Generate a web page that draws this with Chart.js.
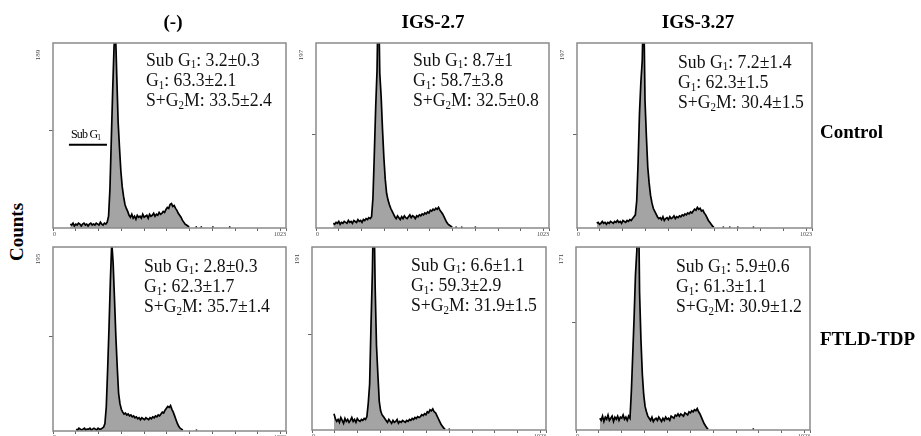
<!DOCTYPE html>
<html>
<head>
<meta charset="utf-8">
<script src="https://cdn.jsdelivr.net/npm/chart.js@4/dist/chart.umd.min.js"></script>
<style>
  html,body{margin:0;padding:0;background:#fff;}
  #fig{position:relative;width:921px;height:436px;overflow:hidden;font-family:'Liberation Serif','Times New Roman',serif;color:#000;}
  #fig canvas{position:absolute;}
  .title{position:absolute;font-weight:bold;font-size:19px;line-height:20px;white-space:nowrap;transform:translateX(-50%);}
  .row{position:absolute;font-weight:bold;font-size:19px;line-height:20px;white-space:nowrap;}
  .ann{position:absolute;font-size:17.7px;line-height:18px;white-space:nowrap;transform:scaleY(1.12);transform-origin:0 0;color:#111;}
  .ann sub,.gate sub{font-size:0.62em;vertical-align:-0.22em;line-height:0;}
  .gate{position:absolute;font-size:12px;letter-spacing:-0.8px;line-height:12px;white-space:nowrap;}
  #counts{position:absolute;font-weight:bold;font-size:19px;line-height:20px;transform:translate(-50%,-50%) rotate(-90deg);left:17px;top:232px;}
</style>
</head>
<body>
<div id="fig">
  <div id="counts">Counts</div>
</div>
<script>
// ---------- Data
const columnTitles = ['(-)', 'IGS-2.7', 'IGS-3.27'];
const rowTitles = ['Control', 'FTLD-TDP'];
const yMaxLabels = [189, 197, 197, 195, 191, 171];
const xTickValues = [0, 100, 200, 300, 400, 500, 600, 700, 800, 900, 1000, 1023];
const yTickValues = [100];
const binWidth = 6;

const subG1 = [3.2, 8.7, 7.2, 2.8, 6.6, 5.9];
const subG1Err = [0.3, 1, 1.4, 0.3, 1.1, 0.6];
const g1 = [63.3, 58.7, 62.3, 62.3, 59.3, 61.3];
const g1Err = [2.1, 3.8, 1.5, 1.7, 2.9, 1.1];
const sg2m = [33.5, 32.5, 30.4, 35.7, 31.9, 30.9];
const sg2mErr = [2.4, 0.8, 1.5, 1.4, 1.5, 1.2];

// first channel of each histogram
const startChannels = [76, 76, 86, 102, 96, 104];

// counts per 6-channel bin
const countsCtrlNeg = [4,3,5,2,4,3,5,4,2,4,5,3,4,2,4,5,3,4,3,5,4,3,6,4,3,5,4,6,
  12,40,90,140,185,205,155,108,82,58,42,32,24,20,17,
  13,11,14,10,12,9,13,11,12,10,14,11,12,13,10,14,12,13,15,12,14,13,16,14,
  15,17,16,19,21,20,24,25,22,23,20,18,15,13,11,8,6,4,3,2,1];
const countsCtrl27 = [5,4,6,5,7,4,6,5,7,6,5,8,6,7,5,8,7,6,9,7,8,6,9,8,10,9,11,10,
  12,32,78,128,168,260,165,140,105,75,52,37,30,25,21,18,15,
  12,10,13,11,9,12,10,13,11,10,12,14,11,13,12,10,13,12,14,13,15,
  14,16,15,17,16,19,18,20,19,21,20,22,19,17,15,12,9,6,4,3,2,1];
const countsCtrl327 = [5,6,4,5,7,5,6,4,6,5,7,6,5,7,6,8,6,7,5,8,7,6,8,7,9,8,10,12,
  14,29,70,122,155,178,250,136,98,65,48,35,27,21,18,15,
  12,10,11,9,12,8,10,11,9,12,10,11,13,10,12,11,13,12,14,13,15,
  14,16,15,17,16,18,20,19,22,20,21,18,19,16,14,11,8,6,4,2,1];
const countsFtldNeg = [2,1,3,2,1,2,3,1,2,2,3,1,2,3,2,1,3,2,2,3,4,
  8,26,66,110,160,200,178,140,100,68,40,29,23,20,18,
  19,17,18,16,17,15,16,14,15,13,14,12,14,13,12,14,13,12,14,13,15,14,16,
  15,17,16,18,20,19,22,24,26,25,27,23,20,16,12,8,5,3,2,1];
const countsFtld27 = [17,12,9,11,8,13,10,7,12,9,11,8,10,13,9,11,8,12,10,9,11,10,12,11,
  14,28,48,110,165,250,150,88,58,30,20,16,14,
  12,10,8,11,9,7,10,8,9,11,7,9,8,10,9,8,10,9,11,10,12,11,13,12,14,13,
  14,16,15,17,16,19,18,21,20,22,19,18,15,12,9,6,4,2,1];
const countsFtld327 = [11,9,13,8,12,10,14,9,11,13,8,12,10,13,9,12,11,14,10,12,9,13,11,
  36,70,105,145,168,240,128,84,52,33,22,17,13,
  11,9,12,8,10,11,9,12,10,8,11,9,12,10,11,9,13,12,11,14,13,15,
  13,15,14,13,16,15,14,17,16,18,17,19,18,20,17,15,12,9,6,4,2,1];

// stray single events past G2/M [channel, count]
const sparseCtrlNeg = [[629,1],[651,1],[702,1],[776,1]];
const sparseCtrl27 = [[615,1],[640,1],[700,1]];
const sparseCtrl327 = [[637,1],[665,1],[700,1],[768,1]];
const sparseFtldNeg = [[630,1]];
const sparseFtld27 = [[600,1]];
const sparseFtld327 = [[775,1]];

// Sub G1 gate on the first panel [fromChannel, toChannel, level]
const gateSubG1 = [70, 237, 85];

const allCounts = [countsCtrlNeg, countsCtrl27, countsCtrl327, countsFtldNeg, countsFtld27, countsFtld327];
const allSparse = [sparseCtrlNeg, sparseCtrl27, sparseCtrl327, sparseFtldNeg, sparseFtld27, sparseFtld327];

// ---------- Layout
const frames = [
  {l:53, t:43, w:233, h:185}, {l:316, t:43, w:233, h:185}, {l:577, t:43, w:235, h:185},
  {l:53, t:247, w:233, h:184}, {l:312, t:247, w:234, h:183}, {l:576, t:247, w:234, h:183}
];
const annPos = [[146,49],[413,49],[678,51],[144,255],[411,254],[676,255]];
const titlePos = [[173,12],[433,12],[698,12]];
const rowPos = [[820,122],[820,329]];
const padL = 20, padR = 14, padT = 4, padB = 10;

const fig = document.getElementById('fig');

const framePlugin = {
  id: 'frame',
  afterDraw(chart){
    const a = chart.chartArea, ctx = chart.ctx, ys = chart.scales.y;
    ctx.save();
    ctx.strokeStyle = '#8a8a8a'; ctx.lineWidth = 1.5;
    ctx.strokeRect(a.left, a.top, a.right - a.left, a.bottom - a.top);
    ctx.fillStyle = '#444'; ctx.font = '7px "Liberation Serif"';
    ctx.textAlign = 'center'; ctx.textBaseline = 'middle';
    ctx.translate(a.left - 15, ys.getPixelForValue(ys.max) + 12);
    ctx.rotate(-Math.PI/2);
    ctx.fillText(String(ys.max), 0, 0);
    ctx.restore();
  }
};

function histPoints(start, counts){ return counts.map((c,i)=>({x:start + i*binWidth, y:c})); }

function makePanel(idx){
  const f = frames[idx];
  const cv = document.createElement('canvas');
  cv.width = f.w + padL + padR; cv.height = f.h + padT + padB;
  cv.style.width = cv.width + 'px'; cv.style.height = cv.height + 'px';
  fig.appendChild(cv);
  const datasets = [
    {data:histPoints(startChannels[idx], allCounts[idx]), borderColor:'#000', borderWidth:1.7,
     backgroundColor:'#a4a4a4', fill:'origin', pointRadius:0, tension:0},
    {type:'scatter', data:allSparse[idx].map(p=>({x:p[0], y:p[1]})), pointRadius:0.9,
     backgroundColor:'#222', borderWidth:0}
  ];
  if(idx===0){
    datasets.push({data:[{x:gateSubG1[0], y:gateSubG1[2]}, {x:gateSubG1[1], y:gateSubG1[2]}],
      borderColor:'#000', borderWidth:2, pointRadius:0, fill:false});
  }
  const chart = new Chart(cv.getContext('2d'), {
    type:'line',
    data:{datasets},
    options:{
      responsive:false, animation:false, devicePixelRatio:1,
      layout:{padding:{left:0, right:padR, top:padT, bottom:0}},
      plugins:{legend:{display:false}, tooltip:{enabled:false}},
      scales:{
        x:{type:'linear', min:0, max:1023,
           afterBuildTicks:s=>{ s.ticks = xTickValues.map(v=>({value:v})); },
           afterFit:s=>{ s.height = padB; },
           ticks:{autoSkip:false, maxRotation:0, minRotation:0, padding:0, align:'inner',
                  color:'#444', font:{size:6, family:'Liberation Serif'},
                  callback:v=> (v===0 || v===1023) ? String(v) : ''},
           grid:{drawOnChartArea:false, drawTicks:true, tickLength:3, color:'#666', lineWidth:1},
           border:{display:false}},
        y:{type:'linear', min:0, max:yMaxLabels[idx],
           afterBuildTicks:s=>{ s.ticks = yTickValues.map(v=>({value:v})); },
           afterFit:s=>{ s.width = padL; },
           ticks:{display:false},
           grid:{drawOnChartArea:false, drawTicks:true, tickLength:4, color:'#666', lineWidth:1},
           border:{display:false}}
      }
    },
    plugins:[framePlugin]
  });
  cv.style.left = (f.l - chart.chartArea.left) + 'px';
  cv.style.top = (f.t - chart.chartArea.top) + 'px';

  const ann = document.createElement('div');
  ann.className = 'ann';
  ann.style.left = annPos[idx][0] + 'px'; ann.style.top = annPos[idx][1] + 'px';
  ann.innerHTML = `Sub G<sub>1</sub>: ${subG1[idx]}±${subG1Err[idx]}<br>G<sub>1</sub>: ${g1[idx]}±${g1Err[idx]}<br>S+G<sub>2</sub>M: ${sg2m[idx]}±${sg2mErr[idx]}`;
  fig.appendChild(ann);
  return chart;
}

const charts = frames.map((f,i)=>makePanel(i));

columnTitles.forEach((t,i)=>{
  const el = document.createElement('div'); el.className = 'title';
  el.style.left = titlePos[i][0] + 'px'; el.style.top = titlePos[i][1] + 'px';
  el.textContent = t; fig.appendChild(el);
});
rowTitles.forEach((t,i)=>{
  const el = document.createElement('div'); el.className = 'row';
  el.style.left = rowPos[i][0] + 'px'; el.style.top = rowPos[i][1] + 'px';
  el.textContent = t; fig.appendChild(el);
});

// gate label above the Sub G1 bar
const gate = document.createElement('div');
gate.className = 'gate';
gate.style.left = '71px'; gate.style.top = '128px';
gate.innerHTML = 'Sub G<sub>1</sub>';
fig.appendChild(gate);
</script>
</body>
</html>
